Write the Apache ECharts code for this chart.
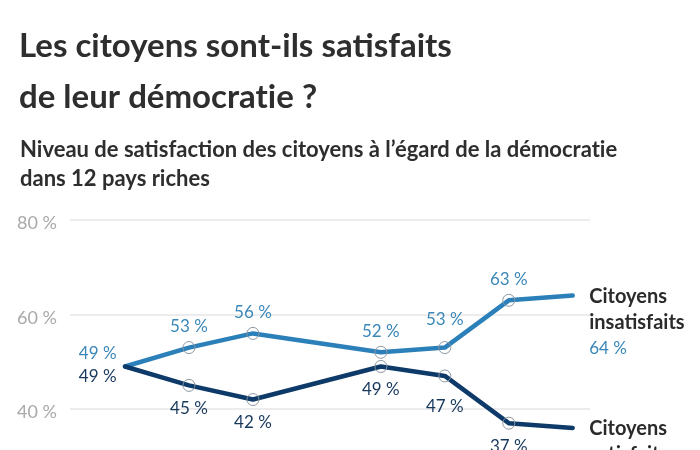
<!DOCTYPE html>
<html><head><meta charset="utf-8">
<script src="https://cdn.jsdelivr.net/npm/echarts@6/dist/echarts.min.js"></script>
<style>html,body{margin:0;padding:0;background:#fff}#c{width:700px;height:450px}</style>
</head><body><div id="c"></div>
<script>
// x positions (periods; slot 3 has no data)
var periods = [0, 1, 2, 4, 5, 6, 7];
var insatisfaits = [49, 53, 56, 52, 53, 63, 64];
var satisfaits = [49, 45, 42, 49, 47, 37, 36];
var yTicks = [0, 20, 40, 60, 80];
var seriesNames = ['Citoyens insatisfaits', 'Citoyens satisfaits'];

var LIGHT = '#2b80ba', DARK = '#0d3a68';
var LIGHT_TXT = '#3b87b8', DARK_TXT = '#16385d';
var FONT = 'Lato';
var NOLIG = '\u200C';

function buildData(vals, endLines, endColor) {
  return vals.map(function (v, i) {
    var item = { value: [periods[i], v] };
    var last = i === vals.length - 1;
    if (i === 0) {
      item.itemStyle = { borderColor: 'rgba(0,0,0,0)' };
      item.label = { position: 'left', distance: 2 };
    } else if (last) {
      item.itemStyle = { borderColor: 'rgba(0,0,0,0)' };
      item.label = {
        position: 'right', distance: 10,
        formatter: '{a|' + endLines[0] + '}\n{a|' + endLines[1] + '}\n{b|' + v + ' %}',
        rich: {
          a: { fontFamily: FONT, fontSize: 20, fontWeight: 'bold', color: '#2b2b2b', lineHeight: 26 },
          b: { fontFamily: FONT, fontSize: 17, color: endColor, lineHeight: 26 }
        }
      };
    }
    return item;
  });
}

function layoutFor(isTop, n) {
  return function (p) {
    var dy = 0;
    if (p.dataIndex === 0) dy = isTop ? -13 : 10;
    else if (p.dataIndex === 4) dy = isTop ? -7 : 8;
    else if (p.dataIndex === n - 1) dy = 27;
    return { dy: dy, hideOverlap: false };
  };
}

var chart = echarts.init(document.getElementById('c'), null, { renderer: 'canvas' });
chart.setOption({
  animation: false,
  title: [
    { text: 'Les citoyens sont-ils satisfaits\nde leur démocrat' + NOLIG + 'ie ?', left: 14, top: 16,
      textStyle: { fontFamily: FONT, fontSize: 33, fontWeight: 'bold', color: '#2e2e2e', lineHeight: 51 } },
    { text: 'Niveau de satisfaction des citoyens à l’égard de la démocrat' + NOLIG + 'ie\ndans 12 pays riches', left: 15, top: 130,
      textStyle: { fontFamily: FONT, fontSize: 22, fontWeight: 'bold', color: '#2e2e2e', lineHeight: 29 } }
  ],
  grid: { left: 70, top: 220, width: 520, height: 378, containLabel: false, outerBoundsMode: 'none' },
  xAxis: { type: 'value', min: -0.86, max: 7.27, show: false },
  yAxis: {
    type: 'value', min: 0, max: 80, interval: 20,
    axisLine: { show: false }, axisTick: { show: false },
    axisLabel: { formatter: '{value} %', fontFamily: FONT, fontSize: 18, color: '#a9a9a9', margin: 13,
      verticalAlign: 'top', lineHeight: 7 },
    splitLine: { lineStyle: { color: '#e6e6e6', width: 1.5 } }
  },
  series: [
    { name: seriesNames[0], type: 'line', connectNulls: true,
      data: buildData(insatisfaits, ['Citoyens', 'insatisfaits'], LIGHT_TXT),
      lineStyle: { color: LIGHT, width: 4.5, cap: 'round', join: 'round' },
      symbol: 'circle', symbolSize: 12,
      itemStyle: { color: 'rgba(0,0,0,0)', borderColor: '#8c96a0', borderWidth: 1 },
      labelLayout: layoutFor(true, insatisfaits.length),
      label: { show: true, position: 'top', distance: 6, formatter: function (p) { return p.value[1] + ' %'; },
        fontFamily: FONT, fontSize: 17, color: LIGHT_TXT },
      z: 3 },
    { name: seriesNames[1], type: 'line', connectNulls: true,
      data: buildData(satisfaits, ['Citoyens', 'satisfaits'], DARK_TXT),
      lineStyle: { color: DARK, width: 4.5, cap: 'round', join: 'round' },
      symbol: 'circle', symbolSize: 12,
      itemStyle: { color: 'rgba(0,0,0,0)', borderColor: '#8c96a0', borderWidth: 1 },
      labelLayout: layoutFor(false, satisfaits.length),
      label: { show: true, position: 'bottom', distance: 8, formatter: function (p) { return p.value[1] + ' %'; },
        fontFamily: FONT, fontSize: 17, color: DARK_TXT },
      z: 4 }
  ]
});
</script></body></html>
